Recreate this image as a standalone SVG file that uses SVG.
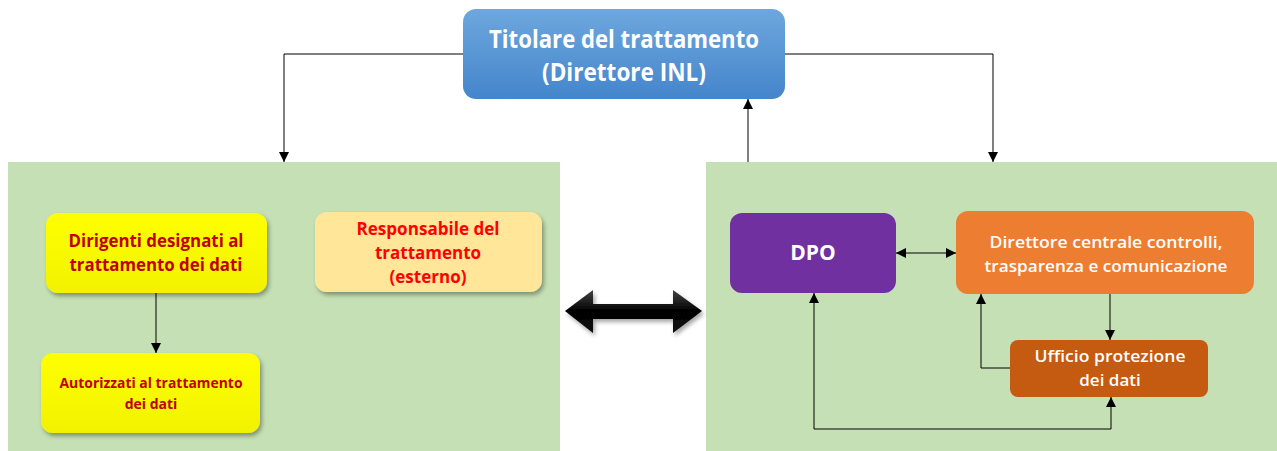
<svg xmlns="http://www.w3.org/2000/svg" width="1277" height="451" viewBox="0 0 1277 451">
<defs>
<linearGradient id="gBlue" x1="0" y1="0" x2="0" y2="1"><stop offset="0" stop-color="#6EA7DE"/><stop offset="1" stop-color="#4485CB"/></linearGradient>
<linearGradient id="gYel" x1="0" y1="0" x2="0" y2="1"><stop offset="0" stop-color="#FFFF00"/><stop offset="1" stop-color="#F2F200"/></linearGradient>
<linearGradient id="gBlk" x1="0" y1="0" x2="0" y2="1"><stop offset="0" stop-color="#444"/><stop offset="0.5" stop-color="#000"/><stop offset="1" stop-color="#111"/></linearGradient>
<filter id="sh" x="-10%" y="-10%" width="125%" height="130%"><feDropShadow dx="2" dy="3" stdDeviation="2" flood-color="#000" flood-opacity="0.35"/></filter>
<marker id="ar" viewBox="0 0 10 10" refX="10" refY="5" markerWidth="10" markerHeight="10" markerUnits="userSpaceOnUse" orient="auto-start-reverse"><path d="M0,0 L10,5 L0,10 z" fill="#000"/></marker>
<style>
.t{font-family:"Open Sans","Liberation Sans",sans-serif;font-weight:bold;text-anchor:middle}
.s{font-weight:600}
.w{fill:#fff}
.c{fill:none;stroke:#000;stroke-width:1}
</style>
</defs>
<rect x="8" y="162" width="552" height="289" fill="#C5E0B4"/>
<rect x="706" y="162" width="571" height="289" fill="#C5E0B4"/>
<g id="titolare">
<rect x="463" y="9" width="322" height="90" rx="13" fill="url(#gBlue)"/>
<text class="t w" x="624" y="48" font-size="25" textLength="270" lengthAdjust="spacingAndGlyphs">Titolare del trattamento</text>
<text class="t w" x="624" y="81" font-size="25" textLength="164" lengthAdjust="spacingAndGlyphs">(Direttore INL)</text>
</g>
<g id="dirigenti">
<rect x="46" y="213" width="221" height="80" rx="12" fill="url(#gYel)" filter="url(#sh)"/>
<text class="t" x="156" y="247" font-size="18" fill="#C00000" textLength="175" lengthAdjust="spacingAndGlyphs">Dirigenti designati al</text>
<text class="t" x="156" y="271" font-size="18" fill="#C00000" textLength="173" lengthAdjust="spacingAndGlyphs">trattamento dei dati</text>
</g>
<g id="autorizzati">
<rect x="41" y="353" width="219" height="80" rx="12" fill="url(#gYel)" filter="url(#sh)"/>
<text class="t" x="151" y="388" font-size="14" fill="#C00000" textLength="183" lengthAdjust="spacingAndGlyphs">Autorizzati al trattamento</text>
<text class="t" x="151" y="409" font-size="14" fill="#C00000">dei dati</text>
</g>
<g id="responsabile">
<rect x="315" y="212" width="227" height="80" rx="12" fill="#FFE699" filter="url(#sh)"/>
<text class="t" x="428" y="235" font-size="17" fill="#FF0000" textLength="143" lengthAdjust="spacingAndGlyphs">Responsabile del</text>
<text class="t" x="428" y="259" font-size="17" fill="#FF0000">trattamento</text>
<text class="t" x="428" y="283" font-size="17" fill="#FF0000">(esterno)</text>
</g>
<g id="dpo">
<rect x="730" y="213" width="166" height="80" rx="12" fill="#7030A0"/>
<text class="t w" x="813" y="260" font-size="21">DPO</text>
</g>
<g id="direttore">
<rect x="956" y="211" width="298" height="83" rx="12" fill="#ED7D31"/>
<text class="t w s" x="1106" y="248" font-size="17" textLength="233" lengthAdjust="spacingAndGlyphs">Direttore centrale controlli,</text>
<text class="t w s" x="1106" y="272" font-size="17" textLength="243" lengthAdjust="spacingAndGlyphs">trasparenza e comunicazione</text>
</g>
<g id="ufficio">
<rect x="1010" y="340" width="198" height="57" rx="8" fill="#C55A11"/>
<text class="t w s" x="1110" y="362" font-size="17" textLength="151" lengthAdjust="spacingAndGlyphs">Ufficio protezione</text>
<text class="t w s" x="1110" y="386" font-size="17">dei dati</text>
</g>
<g id="connectors">
<polyline class="c" points="463,54 284,54 284,162" marker-end="url(#ar)"/>
<polyline class="c" points="785,54 993,54 993,162" marker-end="url(#ar)"/>
<line class="c" x1="748" y1="162" x2="748" y2="99" marker-end="url(#ar)"/>
<line class="c" x1="156" y1="293" x2="156" y2="353" marker-end="url(#ar)"/>
<line class="c" x1="896" y1="253" x2="956" y2="253" marker-start="url(#ar)" marker-end="url(#ar)"/>
<line class="c" x1="1110" y1="294" x2="1110" y2="340" marker-end="url(#ar)"/>
<polyline class="c" points="1010,368 981,368 981,294" marker-end="url(#ar)"/>
<polyline class="c" points="814,293 814,429 1111,429 1111,397" marker-start="url(#ar)" marker-end="url(#ar)"/>
<path d="M565,311 L593,290 L593,304 L673,304 L673,290 L702,311 L673,333 L673,319 L593,319 L593,333 Z" fill="url(#gBlk)" filter="url(#sh)"/>
</g>
</svg>
